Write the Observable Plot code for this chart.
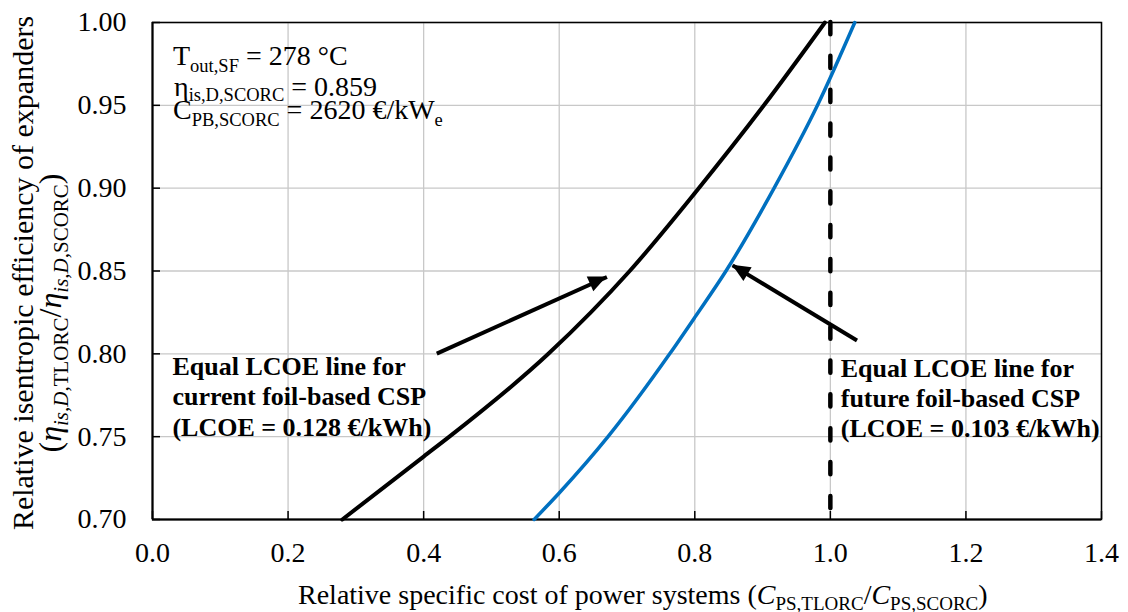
<!DOCTYPE html>
<html><head><meta charset="utf-8">
<script src="https://cdn.jsdelivr.net/npm/d3@7"></script>
<script src="https://cdn.jsdelivr.net/npm/@observablehq/plot@0.6"></script>
<style>
body{margin:0;background:#fff}
</style>
</head><body><div id="chart"></div>
<script>
// ---- data ----
const xTicks = [0.0, 0.2, 0.4, 0.6, 0.8, 1.0, 1.2, 1.4];
const yTicks = [0.70, 0.75, 0.80, 0.85, 0.90, 0.95, 1.00];

// Equal LCOE line, current foil-based CSP (black)
const currentCost = [0.280, 0.400, 0.438, 0.584, 0.704, 0.802, 0.902, 0.992];
const currentEff  = [0.700, 0.738, 0.750, 0.800, 0.850, 0.898, 0.950, 1.000];

// Equal LCOE line, future foil-based CSP (blue)
const futureCost = [0.563, 0.600, 0.672, 0.763, 0.800, 0.846, 0.917, 0.981, 1.036];
const futureEff  = [0.700, 0.716, 0.750, 0.800, 0.822, 0.850, 0.900, 0.950, 1.000];

// reference (equal cost) line
const equalCost = [1.0];

// annotation arrows (from label to curve)
const arrowX1 = [0.4194, 1.0393];
const arrowY1 = [0.8001, 0.8081];
const arrowX2 = [0.6704, 0.8558];
const arrowY2 = [0.8464, 0.8534];

const labelX = [0.0294, 1.0153];
const labelY = [0.800, 0.799];
const labelText = [
  "Equal LCOE line for\ncurrent foil-based CSP\n(LCOE = 0.128 €/kWh)",
  "Equal LCOE line for\nfuture foil-based CSP\n(LCOE = 0.103 €/kWh)"
];

// ---- tables ----
const current = currentCost.map((c, i) => ({c, e: currentEff[i]}));
const future = futureCost.map((c, i) => ({c, e: futureEff[i]}));
const arrows = arrowX1.map((v, i) => ({x1: v, y1: arrowY1[i], x2: arrowX2[i], y2: arrowY2[i]}));
const labels = labelX.map((v, i) => ({x: v, y: labelY[i], text: labelText[i]}));

const FONT = '"Liberation Serif", "Times New Roman", serif';
const gridStyle = {stroke: "#c8c8c8", strokeOpacity: 1, strokeWidth: 1.3};

const chart = Plot.plot({
  width: 1128, height: 612,
  marginLeft: 152, marginRight: 27, marginTop: 22, marginBottom: 93,
  style: `font-family: ${FONT}; font-size: 28px; color: black; background: white; overflow: visible;`,
  x: {domain: [0, 1.4]},
  y: {domain: [0.70, 1.00]},
  marks: [
    Plot.gridX(xTicks, gridStyle),
    Plot.gridY(yTicks, gridStyle),
    Plot.frame({stroke: "black", strokeWidth: 1.5}),
    Plot.ruleX([0], {stroke: "black", strokeWidth: 2}),
    Plot.ruleY([0.70], {stroke: "black", strokeWidth: 2}),
    Plot.axisX(xTicks, {tickSize: -8, tickFormat: () => "", label: null, strokeWidth: 1.5}),
    Plot.axisY(yTicks, {tickSize: -8, tickFormat: () => "", label: null, strokeWidth: 1.5}),
    Plot.axisX(xTicks, {tickSize: 0, tickPadding: 23, tickFormat: d3.format(".1f"), label: null, fontSize: 28, fontFamily: FONT}),
    Plot.axisY(yTicks, {tickSize: 0, tickPadding: 26, tickFormat: d3.format(".2f"), label: null, fontSize: 28, fontFamily: FONT}),
    Plot.ruleX(equalCost, {stroke: "black", strokeWidth: 4.5, strokeDasharray: "12.2,21.65", strokeLinecap: "round"}),
    Plot.line(current, {x: "c", y: "e", stroke: "black", strokeWidth: 4, curve: "monotone-x"}),
    Plot.line(future, {x: "c", y: "e", stroke: "#0070c0", strokeWidth: 3.5, curve: "monotone-x"}),
    Plot.link(arrows, {x1: "x1", y1: "y1", x2: "x2", y2: "y2", stroke: "black", strokeWidth: 4}),
    Plot.text(labels, {x: "x", y: "y", text: "text", textAnchor: "start", lineAnchor: "top", lineHeight: 1.16, fontSize: 26, fontWeight: "bold", fill: "black", fontFamily: FONT})
  ]
});

document.getElementById("chart").appendChild(chart);

const svg = d3.select(chart);
const fx = chart.scale("x"), fy = chart.scale("y");

// filled arrow heads, placed via the plot's scales
svg.append("g").selectAll("path").data(arrows).join("path")
  .attr("fill", "black")
  .attr("d", d => {
    const ax = fx.apply(d.x1), ay = fy.apply(d.y1), bx = fx.apply(d.x2), by = fy.apply(d.y2);
    const dx = bx - ax, dy = by - ay, L = Math.hypot(dx, dy), ux = dx / L, uy = dy / L;
    const hl = 18, hw = 8;
    const cx = bx - ux * hl, cy = by - uy * hl;
    return `M${bx},${by}L${cx - uy * hw},${cy + ux * hw}L${cx + uy * hw},${cy - ux * hw}Z`;
  });

// ---- rich text (subscripts / italics) ----
function rich(sel, parts, subSize, subShift) {
  let shift = 0;
  for (const p of parts) {
    const target = p.sub ? subShift : 0;
    const ts = sel.append("tspan").text(p.t);
    if (target !== shift) ts.attr("dy", target - shift);
    shift = target;
    if (p.sub) ts.attr("font-size", subSize);
    if (p.it) ts.attr("font-style", "italic");
  }
}

const g = svg.append("g").attr("fill", "black").attr("font-size", 28)
  .attr("font-family", FONT).attr("text-anchor", "start");
const annX = 173;
rich(g.append("text").attr("x", annX).attr("y", 65),
  [{t: "T"}, {t: "out,SF", sub: true}, {t: " = 278 °C"}], 18.5, 7);
rich(g.append("text").attr("x", annX + 1).attr("y", 95.5),
  [{t: "η"}, {t: "is,D,SCORC", sub: true}, {t: " = 0.859"}], 18.5, 5.5);
rich(g.append("text").attr("x", annX).attr("y", 118.5),
  [{t: "C"}, {t: "PB,SCORC", sub: true}, {t: " = 2620 €/kW"}, {t: "e", sub: true}], 18.5, 7);

// x axis title
rich(g.append("text").attr("x", 298).attr("y", 604),
  [{t: "Relative specific cost of power systems ("}, {t: "C", it: true}, {t: "PS,TLORC", sub: true}, {t: "/"},
   {t: "C", it: true}, {t: "PS,SCORC", sub: true}, {t: ")"}], 19, 6);

// y axis title
g.append("text").attr("transform", "translate(33,273) rotate(-90)").attr("text-anchor", "middle")
  .attr("font-size", 30)
  .text("Relative isentropic efficiency of expanders");
rich(g.append("text").attr("transform", "translate(61,313) rotate(-90)").attr("text-anchor", "middle")
  .attr("font-size", 32),
  [{t: "("}, {t: "η", it: true}, {t: "is,D,", sub: true, it: true}, {t: "TLORC", sub: true}, {t: "/"},
   {t: "η", it: true}, {t: "is,D,", sub: true, it: true}, {t: "SCORC", sub: true}, {t: ")"}], 21, 7);
</script>
</body></html>
